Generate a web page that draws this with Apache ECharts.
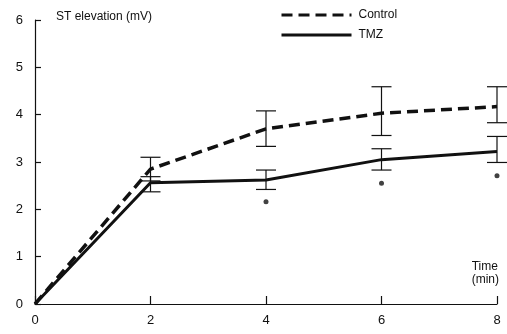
<!DOCTYPE html>
<html><head><meta charset="utf-8">
<script src="https://cdn.jsdelivr.net/npm/echarts@6/dist/echarts.min.js"></script>
<style>html,body{margin:0;padding:0;background:#fff}#c{width:507px;height:334px}</style>
</head><body><div id="c"></div>
<script>
const times = [0, 2, 4, 6, 8];
const controlMean = [0, 2.85, 3.70, 4.03, 4.17];
const controlHigh = [null, 3.10, 4.08, 4.59, 4.59];
const controlLow  = [null, 2.60, 3.33, 3.56, 3.83];
const tmzMean = [0, 2.56, 2.62, 3.05, 3.22];
const tmzHigh = [null, 2.69, 2.83, 3.28, 3.54];
const tmzLow  = [null, 2.37, 2.42, 2.83, 2.99];
const sigTimes = [4, 6, 8];
const sigValues = [2.16, 2.55, 2.71];
const xTicks = [0, 2, 4, 6, 8];
const yTicks = [0, 1, 2, 3, 4, 5, 6];

const ink = '#111';
const font = 'Liberation Sans, Arial, sans-serif';

function errData(hi, lo) {
  const out = [];
  times.forEach((t, i) => { if (hi[i] != null) out.push([t, lo[i], hi[i]]); });
  return out;
}
function errRender(params, api) {
  const x = api.value(0);
  const lo = api.coord([x, api.value(1)]);
  const hi = api.coord([x, api.value(2)]);
  const w = 10;
  const st = { stroke: ink, lineWidth: 1.2 };
  return { type: 'group', children: [
    { type: 'line', shape: { x1: lo[0], y1: lo[1], x2: hi[0], y2: hi[1] }, style: st },
    { type: 'line', shape: { x1: hi[0] - w, y1: hi[1], x2: hi[0] + w, y2: hi[1] }, style: st },
    { type: 'line', shape: { x1: lo[0] - w, y1: lo[1], x2: lo[0] + w, y2: lo[1] }, style: st }
  ]};
}

const chart = echarts.init(document.getElementById('c'), null, { renderer: 'canvas' });
chart.setOption({
  animation: false,
  backgroundColor: '#fff',
  grid: { left: 35, right: 10, top: 20, bottom: 30 },
  legend: {
    orient: 'vertical', left: 275, top: 4, itemWidth: 70, itemHeight: 10, itemGap: 8,
    itemStyle: { opacity: 0 },
    lineStyle: { width: 3 },
    textStyle: { color: ink, fontSize: 12, fontFamily: font, padding: [0, 0, 0, 2] },
    data: ['Control', 'TMZ']
  },
  xAxis: {
    type: 'value', min: 0, max: 8, interval: 2,
    axisLine: { lineStyle: { color: ink, width: 1.2 } },
    axisTick: { inside: true, length: 8, lineStyle: { color: ink, width: 1.2 } },
    axisLabel: { color: ink, fontSize: 13, fontFamily: font, margin: 10,
      formatter: v => xTicks.includes(v) ? String(v) : '' },
    splitLine: { show: false }
  },
  yAxis: {
    type: 'value', min: 0, max: 6, interval: 1,
    axisLine: { show: true, lineStyle: { color: ink, width: 1.2 } },
    axisTick: { show: true, inside: true, length: 6, lineStyle: { color: ink, width: 1.2 } },
    axisLabel: { color: ink, fontSize: 13, fontFamily: font, margin: 12,
      formatter: v => yTicks.includes(v) ? String(v) : '' },
    splitLine: { show: false }
  },
  graphic: [
    { type: 'text', left: 56, top: 11, style: { text: 'ST elevation (mV)', fill: ink, font: '12px ' + font } },
    { type: 'text', right: 8, top: 260, style: { text: 'Time\n(min)', fill: ink, font: '12px ' + font, align: 'right', lineHeight: 13 } }
  ],
  series: [
    { name: 'Control', type: 'line', data: times.map((t, i) => [t, controlMean[i]]),
      symbol: 'none', lineStyle: { color: ink, width: 3.5, type: [11, 6] }, itemStyle: { color: ink }, z: 3 },
    { name: 'TMZ', type: 'line', data: times.map((t, i) => [t, tmzMean[i]]),
      symbol: 'none', lineStyle: { color: ink, width: 3 }, itemStyle: { color: ink }, z: 3 },
    { type: 'custom', data: errData(controlHigh, controlLow), renderItem: errRender, encode: { x: 0, y: [1, 2] }, z: 2 },
    { type: 'custom', data: errData(tmzHigh, tmzLow), renderItem: errRender, encode: { x: 0, y: [1, 2] }, z: 2 },
    { type: 'scatter', data: sigTimes.map((t, i) => [t, sigValues[i]]), symbol: 'circle', symbolSize: 5,
      itemStyle: { color: ink }, z: 4 }
  ]
});
</script>
</body></html>
